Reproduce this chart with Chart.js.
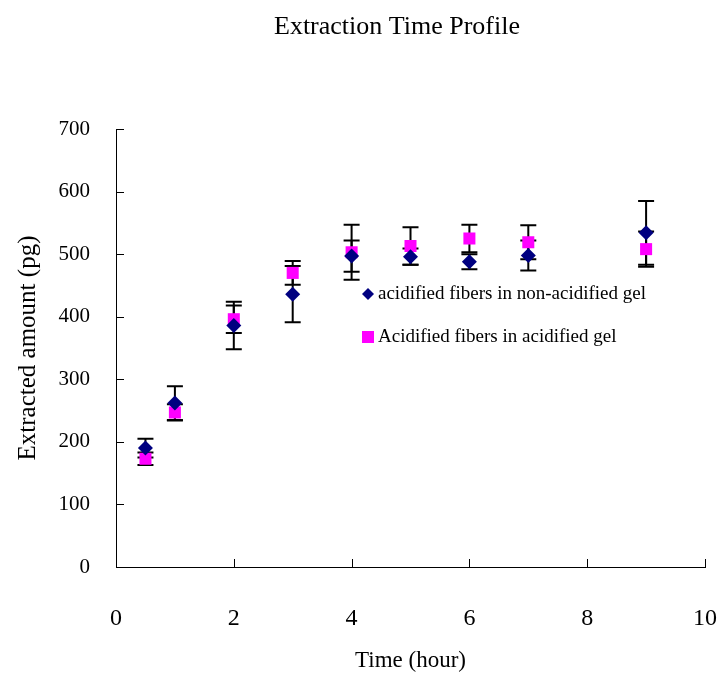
<!DOCTYPE html>
<html>
<head>
<meta charset="utf-8">
<script src="https://cdn.jsdelivr.net/npm/chart.js@4/dist/chart.umd.min.js"></script>
<style>
  html, body { margin: 0; padding: 0; background: #fff; }
  #wrap { width: 723px; height: 679px; }
</style>
</head>
<body>
<div id="wrap"><canvas id="grafico" width="723" height="679"></canvas></div>
<script>
const titulo = "Extraction Time Profile";
const tituloX = "Time (hour)";
const tituloY = "Extracted amount (pg)";
const nomes = ["acidified fibers in non-acidified gel", "Acidified fibers in acidified gel"];

const tempos = [0.5, 1, 2, 3, 4, 5, 6, 7, 9];
const mediaNaoAcid = [190, 262, 386, 436, 497, 496, 488, 498, 534];
const erroNaoAcid = [15, 27, 38, 45, 25, 13, 12, 24, 51];
const mediaAcid = [173, 247, 396, 470, 503, 513, 525, 519, 508];
const erroAcid = [10, 13, 22, 19, 44, 30, 22, 27, 28];

const ticksX = [0, 2, 4, 6, 8, 10];
const ticksY = [0, 100, 200, 300, 400, 500, 600, 700];

const FONTE = "'Liberation Serif', 'Times New Roman', serif";
const AZUL = "#000080";
const ROSA = "#FF00FF";

// barras de erro desenhadas pelas escalas do grafico
const barrasErro = {
  id: "barrasErro",
  beforeDatasetsDraw(chart) {
    const { ctx, scales: { x, y } } = chart;
    ctx.save();
    ctx.strokeStyle = "#000";
    ctx.lineWidth = 2;
    [[mediaNaoAcid, erroNaoAcid], [mediaAcid, erroAcid]].forEach(([media, erro]) => {
      tempos.forEach((t, i) => {
        const px = x.getPixelForValue(t);
        const topo = y.getPixelForValue(media[i] + erro[i]);
        const base = y.getPixelForValue(media[i] - erro[i]);
        ctx.beginPath();
        ctx.moveTo(px, topo);
        ctx.lineTo(px, base);
        ctx.moveTo(px - 8, topo);
        ctx.lineTo(px + 8, topo);
        ctx.moveTo(px - 8, base);
        ctx.lineTo(px + 8, base);
        ctx.stroke();
      });
    });
    ctx.restore();
  },
};

// marcas de escala para dentro, titulo e legenda
const extras = {
  id: "extras",
  afterDraw(chart) {
    const { ctx, chartArea: area, scales: { x, y } } = chart;
    ctx.save();
    ctx.strokeStyle = "#000";
    ctx.lineWidth = 1;
    ctx.beginPath();
    ticksX.forEach((v) => {
      const px = Math.round(x.getPixelForValue(v)) + 0.5;
      ctx.moveTo(px, area.bottom);
      ctx.lineTo(px, area.bottom - 8);
    });
    ticksY.forEach((v) => {
      const py = Math.round(y.getPixelForValue(v)) + 0.5;
      ctx.moveTo(area.left, py);
      ctx.lineTo(area.left + 8, py);
    });
    ctx.stroke();

    ctx.fillStyle = "#000";
    ctx.font = "26px " + FONTE;
    ctx.textAlign = "center";
    ctx.textBaseline = "middle";
    ctx.fillText(titulo, 397, 27);

    // legenda
    const lx = area.left + 252;
    const ly = [area.top + 165, area.top + 208];
    ctx.fillStyle = AZUL;
    ctx.beginPath();
    ctx.moveTo(lx, ly[0] - 6);
    ctx.lineTo(lx + 6, ly[0]);
    ctx.lineTo(lx, ly[0] + 6);
    ctx.lineTo(lx - 6, ly[0]);
    ctx.closePath();
    ctx.fill();
    ctx.fillStyle = ROSA;
    ctx.fillRect(lx - 6, ly[1] - 6, 12, 12);

    ctx.fillStyle = "#000";
    ctx.font = "19px " + FONTE;
    ctx.textAlign = "left";
    ctx.fillText(nomes[0], lx + 10, ly[0]);
    ctx.fillText(nomes[1], lx + 10, ly[1]);
    ctx.restore();
  },
};

new Chart(document.getElementById("grafico"), {
  type: "scatter",
  data: {
    datasets: [
      {
        label: nomes[0],
        data: tempos.map((t, i) => ({ x: t, y: mediaNaoAcid[i] })),
        pointStyle: "rectRot",
        pointRadius: 7.5,
        backgroundColor: AZUL,
        borderColor: AZUL,
        borderWidth: 0,
      },
      {
        label: nomes[1],
        data: tempos.map((t, i) => ({ x: t, y: mediaAcid[i] })),
        pointStyle: "rect",
        pointRadius: 8.5,
        backgroundColor: ROSA,
        borderColor: ROSA,
        borderWidth: 0,
      },
    ],
  },
  options: {
    responsive: false,
    animation: false,
    devicePixelRatio: 1,
    layout: { padding: { left: 9, top: 129, right: 18, bottom: 0 } },
    plugins: {
      legend: { display: false },
      tooltip: { enabled: false },
      title: { display: false },
    },
    scales: {
      x: {
        type: "linear",
        min: 0,
        max: 10,
        grid: { display: false, drawTicks: false },
        border: { display: true, color: "#000", width: 1 },
        afterFit(scale) {
          scale.height = 112;
          scale.paddingLeft = 0;
          scale.paddingRight = 0;
        },
        afterBuildTicks(scale) { scale.ticks = ticksX.map((v) => ({ value: v })); },
        ticks: {
          color: "#000",
          padding: 37,
          font: { family: FONTE, size: 24 },
        },
        title: {
          display: true,
          text: tituloX,
          color: "#000",
          font: { family: FONTE, size: 23 },
        },
      },
      y: {
        type: "linear",
        min: 0,
        max: 700,
        grid: { display: false, drawTicks: false },
        border: { display: true, color: "#000", width: 1 },
        afterFit(scale) { scale.width = 107; },
        afterBuildTicks(scale) { scale.ticks = ticksY.map((v) => ({ value: v })); },
        ticks: {
          color: "#000",
          padding: 26,
          font: { family: FONTE, size: 21 },
        },
        title: {
          display: true,
          text: tituloY,
          color: "#000",
          font: { family: FONTE, size: 25 },
        },
      },
    },
  },
  plugins: [barrasErro, extras],
});
</script>
</body>
</html>
